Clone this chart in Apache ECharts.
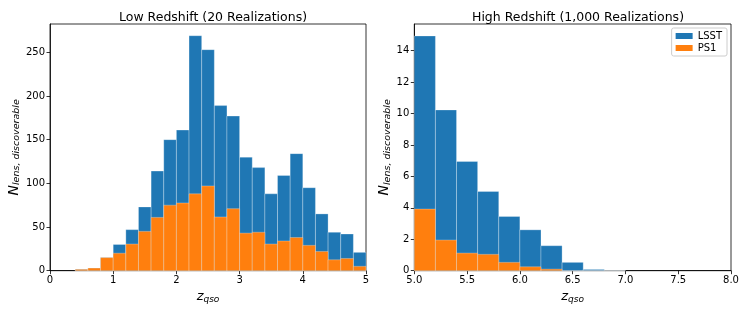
<!DOCTYPE html>
<html><head><meta charset="utf-8">
<script src="https://cdn.jsdelivr.net/npm/echarts@6/dist/echarts.min.js"></script>
<style>html,body{margin:0;padding:0;background:#fff}#c{width:747px;height:312px}</style>
</head><body><div id="c"></div>
<script>
// ---- data ----
const binWidth = 0.2;
const lowBinStart = [0.4,0.6,0.8,1.0,1.2,1.4,1.6,1.8,2.0,2.2,2.4,2.6,2.8,3.0,3.2,3.4,3.6,3.8,4.0,4.2,4.4,4.6,4.8];
const lowLSST = [1.5,3,15,30,47,73,114,150,161,269,253,189,177,130,118,88,109,134,95,65,44,42,21];
const lowPS1  = [1.5,3,15,20,30.5,45,61,75,77.5,88,97,61.5,71,43,44,30.5,34,38,29,22,12.5,14,5];
const highBinStart = [5.0,5.2,5.4,5.6,5.8,6.0,6.2,6.4,6.6,6.8];
const highLSST = [14.94,10.23,6.95,5.04,3.45,2.6,1.59,0.53,0.08,0.01];
const highPS1  = [3.92,1.95,1.12,1.04,0.53,0.25,0.1,0,0,0];
const lowXTicks = [0,1,2,3,4,5];
const highXTicks = [5.0,5.5,6.0,6.5,7.0,7.5,8.0];
const seriesNames = ['LSST','PS1'];
const colors = ['#1f77b4','#ff7f0e'];

function toData(starts, vals){ return starts.map((s,i)=>[s, s+binWidth, vals[i]]); }
function renderRect(color){
  return function(params, api){
    const p0 = api.coord([api.value(0), api.value(2)]);
    const p1 = api.coord([api.value(1), 0]);
    return {type:'rect', shape:{x:p0[0], y:p0[1], width:p1[0]-p0[0], height:p1[1]-p0[1]},
      style:{fill:color, stroke:'rgba(255,255,255,0.35)', lineWidth:0.8}};
  };
}
const font = 'DejaVu Sans';
const axisLabel = {color:'#000', fontSize:10, fontFamily:font, margin:5};
const axisLine = {show:true, onZero:false, lineStyle:{color:'#000', width:0.8}};
const axisTick = {show:true, length:3.5, lineStyle:{color:'#000', width:0.8}};
const yName = '{n|N}{s|lens, discoverable}';
const yRich = {n:{fontSize:14, fontStyle:'italic', fontFamily:font, color:'#000'}, s:{fontSize:9.5, fontStyle:'italic', fontFamily:font, color:'#000', verticalAlign:'bottom', padding:[6,0,0,0]}};
const xName = '{n|z}{s|qso}';
const xRich = {n:{fontSize:13, fontStyle:'italic', fontFamily:font, color:'#000'}, s:{fontSize:9, fontStyle:'italic', fontFamily:font, color:'#000', padding:[6,0,0,0]}};

const chart = echarts.init(document.getElementById('c'), null, {renderer:'canvas'});
chart.setOption({
  animation:false,
  title:[
    {text:'Low Redshift (20 Realizations)', left:208, top:6, textAlign:'center', textStyle:{fontFamily:font, fontSize:12.5, fontWeight:'normal', color:'#000'}},
    {text:'High Redshift (1,000 Realizations)', left:573, top:6, textAlign:'center', textStyle:{fontFamily:font, fontSize:12.5, fontWeight:'normal', color:'#000'}}
  ],
  legend:{data:seriesNames.map((n,i)=>({name:n, itemStyle:{color:colors[i]}})), right:20, top:28, orient:'vertical', itemWidth:17, itemHeight:6, itemGap:2,
    borderColor:'#ccc', borderWidth:1, borderRadius:2, padding:[3,5,3,4], textStyle:{fontFamily:font, fontSize:10, color:'#000'}, icon:'rect'},
  grid:[
    {left:50, right:381, top:24, bottom:41.3, show:true, borderColor:'#000', borderWidth:0.8},
    {left:414.3, right:16, top:24, bottom:41.3, show:true, borderColor:'#000', borderWidth:0.8}
  ],
  xAxis:[
    {type:'value', gridIndex:0, min:0, max:5, interval:1, axisLine, axisTick, axisLabel:{...axisLabel, formatter:v=>String(v)}, splitLine:{show:false},
      name:xName, nameLocation:'middle', nameGap:18, nameTextStyle:{rich:xRich}},
    {type:'value', gridIndex:1, min:5, max:8, interval:0.5, axisLine, axisTick, axisLabel:{...axisLabel, formatter:v=>v.toFixed(1)}, splitLine:{show:false},
      name:xName, nameLocation:'middle', nameGap:18, nameTextStyle:{rich:xRich}}
  ],
  yAxis:[
    {type:'value', gridIndex:0, min:0, max:282.4, interval:50, axisLine, axisTick, axisLabel:{...axisLabel, showMaxLabel:false}, splitLine:{show:false},
      name:yName, nameLocation:'middle', nameGap:24, nameRotate:90, nameTextStyle:{rich:yRich}},
    {type:'value', gridIndex:1, min:0, max:15.7, interval:2, axisLine, axisTick, axisLabel:{...axisLabel, showMaxLabel:false}, splitLine:{show:false},
      name:yName, nameLocation:'middle', nameGap:19, nameRotate:90, nameTextStyle:{rich:yRich}}
  ],
  series:[
    {name:'LSST', type:'custom', xAxisIndex:0, yAxisIndex:0, renderItem:renderRect(colors[0]), data:toData(lowBinStart, lowLSST), encode:{x:[0,1], y:2}, itemStyle:{color:colors[0]}},
    {name:'PS1', type:'custom', xAxisIndex:0, yAxisIndex:0, renderItem:renderRect(colors[1]), data:toData(lowBinStart, lowPS1), encode:{x:[0,1], y:2}, itemStyle:{color:colors[1]}},
    {name:'LSST', type:'custom', xAxisIndex:1, yAxisIndex:1, renderItem:renderRect(colors[0]), data:toData(highBinStart, highLSST), encode:{x:[0,1], y:2}, itemStyle:{color:colors[0]}},
    {name:'PS1', type:'custom', xAxisIndex:1, yAxisIndex:1, renderItem:renderRect(colors[1]), data:toData(highBinStart, highPS1), encode:{x:[0,1], y:2}, itemStyle:{color:colors[1]}}
  ]
});
</script></body></html>
